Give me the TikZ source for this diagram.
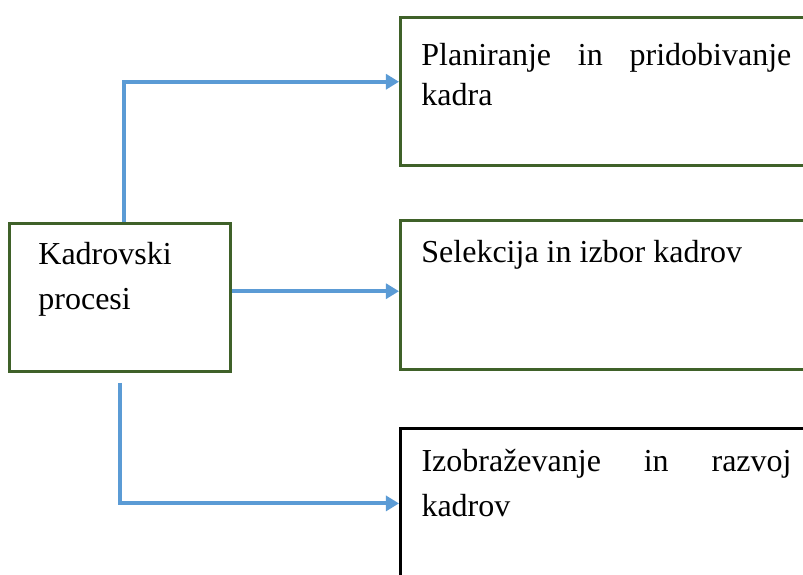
\documentclass[tikz,border=0pt]{standalone}
\usepackage{fontspec}
\setmainfont{Liberation Serif}
\usetikzlibrary{arrows.meta, positioning}
\definecolor{linkblue}{HTML}{5B9BD5}
\definecolor{boxgreen}{HTML}{3F6129}
% box text: height, width, first baseline, text
\newcommand{\boxpar}[4]{\parbox[c][#1][t]{#2}{\setlength{\parindent}{0pt}\tolerance=10000\hyphenpenalty=10000\rule{0pt}{#3}#4}}

\begin{document}
\begin{tikzpicture}[
    x=0.375pt, y=-0.375pt,
    box/.style={rectangle, draw=boxgreen, line width=1pt, inner ysep=0pt, inner xsep=7.9pt, anchor=north west, font=\fontsize{12}{16.9}\selectfont},
    conn/.style={draw=linkblue, line width=1.5pt, -{Triangle[length=4.9pt, width=5.6pt]}},
]
\useasboundingbox (0,0) rectangle (803,574);
\clip (0,0) rectangle (803,574);

% Left box
\node[box, inner xsep=10.9pt] (kadrovski) at (8,222) {\boxpar{55.5pt}{61.1pt}{15.5pt}{Kadrovski procesi}};

% Right column
\node[box, font=\fontsize{12}{15}\selectfont] (plan) at (399,16) {\boxpar{55.5pt}{138.75pt}{18.2pt}{Planiranje in pridobivanje kadra}};
\node[box, below=19.8pt of plan.south west, anchor=north west] (selekcija) {\boxpar{55.8pt}{138.75pt}{15.6pt}{Selekcija in izbor kadrov}};
\node[box, draw=black, line width=1.1pt, below=21pt of selekcija.south west, anchor=north west] (izobrazevanje) {\boxpar{56.25pt}{138.75pt}{16pt}{Izobraževanje in razvoj kadrov}};

% Arrows
\draw[conn] ([xshift=1.7pt]kadrovski.north) |- ([yshift=3.6pt]plan.west);
\draw[conn] ([yshift=2.3pt]kadrovski.east) coordinate (k2) -- (k2 -| selekcija.west);
\draw[conn] ([yshift=-3.8pt]kadrovski.south) |- (izobrazevanje.west);

\end{tikzpicture}
\end{document}
